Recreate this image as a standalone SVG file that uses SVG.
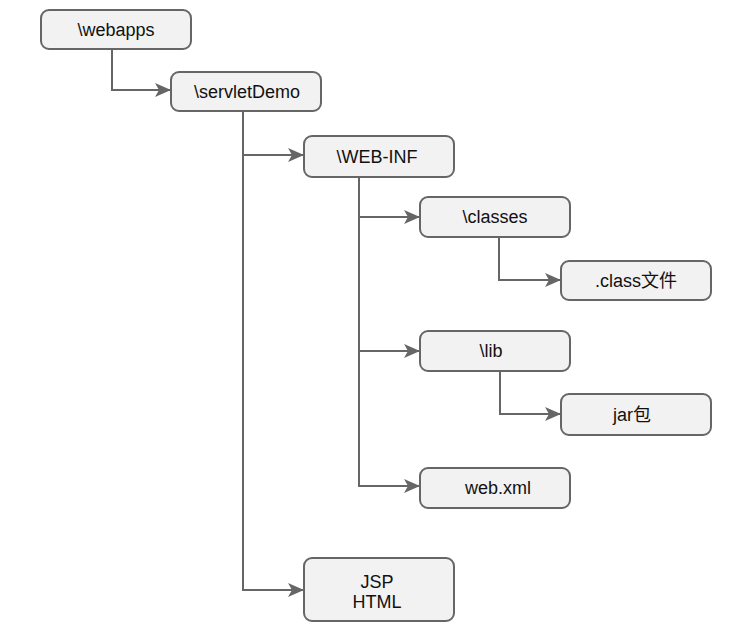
<svg xmlns="http://www.w3.org/2000/svg" width="744" height="636" viewBox="0 0 744 636">
<defs>
<style>
.n rect{fill:#f2f2f2;stroke:#666;stroke-width:2}
.n text{font-family:"Liberation Sans",Arial,"Noto Sans CJK SC",sans-serif;font-size:18px;fill:#111;text-anchor:middle}
.c path{fill:none;stroke:#666;stroke-width:2}
</style>
<marker id="ah" viewBox="0 0 16 14" refX="15" refY="7" markerWidth="16" markerHeight="14" markerUnits="userSpaceOnUse" orient="auto">
<path d="M0,0 L16,7 L0,14 L4,7 Z" fill="#666"/>
</marker>
</defs>
<rect width="744" height="636" fill="#fff"/>
<g class="c">
<path d="M112,49 V90 H170" marker-end="url(#ah)"/>
<path d="M243,111 V155 H303" marker-end="url(#ah)"/>
<path d="M243,155 V590 H303" marker-end="url(#ah)"/>
<path d="M359,177 V217 H419" marker-end="url(#ah)"/>
<path d="M359,217 V351 H419" marker-end="url(#ah)"/>
<path d="M359,351 V486 H419" marker-end="url(#ah)"/>
<path d="M499,237 V280 H560" marker-end="url(#ah)"/>
<path d="M500,371 V414 H560" marker-end="url(#ah)"/>
</g>
<g id="webapps" class="n"><rect x="41" y="10" width="150" height="39" rx="8"/><text x="116" y="36">\webapps</text></g>
<g id="servletDemo" class="n"><rect x="171" y="72" width="150" height="39" rx="8"/><text x="247" y="98">\servletDemo</text></g>
<g id="webinf" class="n"><rect x="304" y="136" width="150" height="41" rx="8"/><text x="377" y="163">\WEB-INF</text></g>
<g id="classes" class="n"><rect x="420" y="197" width="150" height="40" rx="8"/><text x="495" y="223">\classes</text></g>
<g id="classfile" class="n"><rect x="561" y="261" width="150" height="39" rx="8"/><text x="636" y="287">.class文件</text></g>
<g id="lib" class="n"><rect x="420" y="331" width="150" height="40" rx="8"/><text x="491" y="357">\lib</text></g>
<g id="jar" class="n"><rect x="561" y="394" width="150" height="41" rx="8"/><text x="632" y="421">jar包</text></g>
<g id="webxml" class="n"><rect x="420" y="468" width="150" height="40" rx="8"/><text x="498" y="494">web.xml</text></g>
<g id="jsp" class="n"><rect x="304" y="558" width="150" height="63" rx="8"/><text x="377" y="588">JSP</text><text x="377" y="608">HTML</text></g>
</svg>
